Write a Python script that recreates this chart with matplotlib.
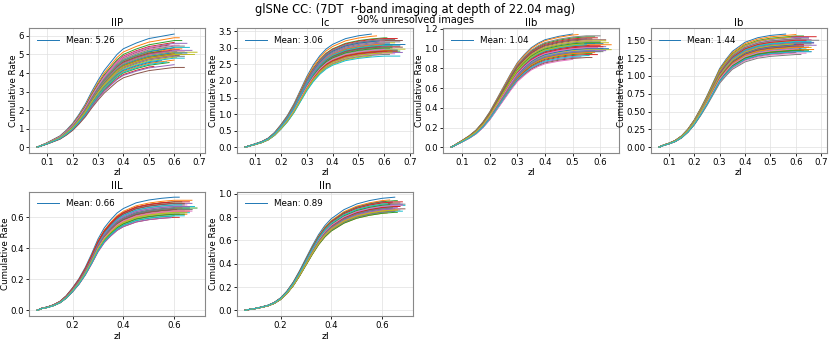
"""Cumulative rate of lensed CC supernovae per subtype.
"""
import numpy as np
import matplotlib
matplotlib.use("Agg")
import matplotlib.pyplot as plt

# common redshift knots for the read-off curve shapes
z_knots = [0.06, 0.08, 0.10, 0.125, 0.15, 0.175, 0.20, 0.225, 0.25, 0.275, 0.30,
           0.325, 0.35, 0.375, 0.40, 0.45, 0.50, 0.55, 0.60, 0.65, 0.70]

types = ["IIP", "Ic", "IIb", "Ib", "IIL", "IIn"]
means = [5.26, 3.06, 1.04, 1.44, 0.66, 0.89]

# normalised shape of the cumulative curves (fraction of final value)
shape_IIP = [0, 0.02, 0.04, 0.07, 0.10, 0.15, 0.21, 0.29, 0.38, 0.49, 0.59,
             0.68, 0.75, 0.82, 0.87, 0.92, 0.96, 0.98, 1.0, 1.0, 1.0]
shape_Ic = [0, 0.015, 0.03, 0.05, 0.08, 0.13, 0.20, 0.28, 0.38, 0.50, 0.62,
            0.72, 0.80, 0.86, 0.90, 0.95, 0.975, 0.99, 1.0, 1.0, 1.0]
shape_IIb = [0, 0.03, 0.06, 0.10, 0.15, 0.22, 0.31, 0.42, 0.53, 0.64, 0.74,
             0.81, 0.87, 0.91, 0.94, 0.97, 0.99, 1.0, 1.0, 1.0, 1.0]
shape_Ib = [0, 0.02, 0.035, 0.06, 0.10, 0.16, 0.24, 0.34, 0.45, 0.57, 0.69,
            0.77, 0.84, 0.88, 0.92, 0.96, 0.98, 0.99, 1.0, 1.0, 1.0]
shape_IIL = [0, 0.02, 0.03, 0.05, 0.08, 0.13, 0.20, 0.28, 0.38, 0.50, 0.63,
             0.73, 0.80, 0.86, 0.90, 0.95, 0.975, 0.99, 1.0, 1.0, 1.0]
shape_IIn = [0, 0.01, 0.017, 0.03, 0.045, 0.07, 0.11, 0.17, 0.25, 0.35, 0.46,
             0.57, 0.67, 0.75, 0.81, 0.89, 0.94, 0.97, 0.99, 1.0, 1.0]
shapes = [shape_IIP, shape_Ic, shape_IIb, shape_Ib, shape_IIL, shape_IIn]

# final heights and last redshift of each realisation
final_IIP = [6.10, 5.90, 5.75, 5.65, 5.60, 5.55, 5.50, 5.45, 5.40, 5.38, 5.35,
             5.30, 5.28, 5.25, 5.22, 5.20, 5.18, 5.15, 5.12, 5.10, 5.08, 5.05,
             5.02, 5.00, 4.98, 4.95, 4.92, 4.90, 4.85, 4.80, 4.75, 4.70, 4.60,
             4.50, 4.45, 4.30, 5.60, 5.35, 5.00, 4.65]
end_IIP = [0.60, 0.62, 0.63, 0.60, 0.65, 0.58, 0.62, 0.64, 0.57, 0.66, 0.60,
           0.63, 0.55, 0.62, 0.67, 0.59, 0.64, 0.61, 0.69, 0.58, 0.65, 0.60,
           0.63, 0.66, 0.56, 0.62, 0.60, 0.64, 0.61, 0.64, 0.55, 0.60, 0.58,
           0.52, 0.60, 0.64, 0.54, 0.50, 0.68, 0.57]

final_Ic = [3.45, 3.38, 3.30, 3.28, 3.25, 3.22, 3.20, 3.18, 3.15, 3.12, 3.10,
            3.08, 3.06, 3.05, 3.03, 3.02, 3.00, 2.98, 2.96, 2.95, 2.93, 2.92,
            2.90, 2.88, 2.86, 2.85, 2.82, 2.80, 2.78, 2.75, 3.22, 3.12, 3.00,
            2.90, 3.15, 3.05, 2.95, 3.25, 2.85, 3.08]
end_Ic = [0.55, 0.57, 0.61, 0.65, 0.63, 0.67, 0.60, 0.66, 0.64, 0.62, 0.68,
          0.59, 0.63, 0.66, 0.61, 0.67, 0.64, 0.62, 0.68, 0.60, 0.65, 0.63,
          0.66, 0.61, 0.67, 0.59, 0.64, 0.62, 0.55, 0.66, 0.58, 0.60, 0.63,
          0.65, 0.62, 0.57, 0.60, 0.64, 0.63, 0.66]

final_IIb = [1.16, 1.15, 1.12, 1.11, 1.10, 1.09, 1.08, 1.07, 1.06, 1.05, 1.05,
             1.04, 1.03, 1.03, 1.02, 1.01, 1.00, 1.00, 0.99, 0.98, 0.97, 0.96,
             0.95, 0.94, 0.92, 0.91, 0.90, 1.13, 1.08, 1.04, 1.00, 0.96, 1.06,
             1.02, 0.98, 1.10, 1.01, 0.97, 1.05, 0.93]
end_IIb = [0.50, 0.52, 0.58, 0.59, 0.55, 0.62, 0.57, 0.60, 0.63, 0.58, 0.61,
           0.64, 0.56, 0.60, 0.62, 0.59, 0.57, 0.61, 0.64, 0.58, 0.60, 0.56,
           0.57, 0.59, 0.53, 0.57, 0.50, 0.60, 0.62, 0.55, 0.63, 0.58, 0.60,
           0.61, 0.62, 0.57, 0.59, 0.61, 0.54, 0.56]

final_Ib = [1.60, 1.58, 1.56, 1.55, 1.54, 1.52, 1.51, 1.50, 1.49, 1.48, 1.47,
            1.46, 1.45, 1.44, 1.43, 1.42, 1.42, 1.41, 1.40, 1.39, 1.38, 1.37,
            1.36, 1.35, 1.34, 1.33, 1.32, 1.30, 1.55, 1.48, 1.44, 1.40, 1.36,
            1.50, 1.46, 1.42, 1.38, 1.52, 1.45, 1.34]
end_Ib = [0.56, 0.60, 0.63, 0.68, 0.65, 0.62, 0.66, 0.69, 0.60, 0.64, 0.67,
          0.62, 0.66, 0.63, 0.68, 0.61, 0.65, 0.63, 0.66, 0.64, 0.62, 0.67,
          0.65, 0.63, 0.66, 0.60, 0.64, 0.62, 0.58, 0.66, 0.60, 0.65, 0.62,
          0.64, 0.67, 0.63, 0.61, 0.65, 0.59, 0.66]

final_IIL = [0.73, 0.71, 0.70, 0.70, 0.69, 0.69, 0.68, 0.68, 0.67, 0.67, 0.66,
             0.66, 0.66, 0.65, 0.65, 0.65, 0.64, 0.64, 0.63, 0.63, 0.62, 0.62,
             0.61, 0.60, 0.60, 0.69, 0.67, 0.65, 0.63, 0.68, 0.66, 0.64, 0.62,
             0.70, 0.67, 0.65, 0.64, 0.66, 0.63, 0.61]
end_IIL = [0.62, 0.67, 0.63, 0.66, 0.67, 0.60, 0.65, 0.64, 0.62, 0.68, 0.66,
           0.63, 0.69, 0.65, 0.61, 0.67, 0.66, 0.64, 0.62, 0.66, 0.62, 0.65,
           0.60, 0.62, 0.59, 0.64, 0.62, 0.67, 0.65, 0.63, 0.60, 0.66, 0.64,
           0.58, 0.66, 0.61, 0.67, 0.63, 0.60, 0.64]

final_IIn = [0.97, 0.95, 0.94, 0.93, 0.93, 0.92, 0.92, 0.91, 0.91, 0.90, 0.90,
             0.89, 0.89, 0.88, 0.88, 0.87, 0.87, 0.86, 0.86, 0.85, 0.85, 0.84,
             0.84, 0.93, 0.91, 0.89, 0.87, 0.85, 0.92, 0.90, 0.88, 0.86, 0.91,
             0.89, 0.87, 0.94, 0.90, 0.88, 0.86, 0.92]
end_IIn = [0.65, 0.63, 0.66, 0.68, 0.64, 0.67, 0.62, 0.69, 0.66, 0.63, 0.68,
           0.65, 0.67, 0.62, 0.66, 0.69, 0.64, 0.67, 0.63, 0.68, 0.65, 0.62,
           0.66, 0.64, 0.68, 0.63, 0.67, 0.65, 0.62, 0.69, 0.64, 0.66, 0.63,
           0.67, 0.65, 0.61, 0.68, 0.64, 0.66, 0.62]

finals = [final_IIP, final_Ic, final_IIb, final_Ib, final_IIL, final_IIn]
ends = [end_IIP, end_Ic, end_IIb, end_Ib, end_IIL, end_IIn]

yticks = [np.arange(0, 6.1, 1), np.arange(0, 3.51, 0.5), np.arange(0, 1.21, 0.2),
          np.arange(0, 1.51, 0.25), np.arange(0, 0.61, 0.2), np.arange(0, 1.01, 0.2)]
ytick_fmt = ["%d", "%.1f", "%.1f", "%.2f", "%.1f", "%.1f"]

fig = plt.figure(figsize=(8.3, 3.42), dpi=100)
fig.text(0.5, 1 - 9 / 342, "glSNe CC: (7DT  r-band imaging at depth of 22.04 mag)",
         ha="center", va="center", fontsize=8.3)
fig.text(0.5, 1 - 20 / 342, "90% unresolved images", ha="center", va="center",
         fontsize=7.0)

#positions of the six panels (left, bottom)
lefts = [0.035, 0.2855, 0.534, 0.784, 0.035, 0.2855]
bottoms = [0.553, 0.553, 0.553, 0.553, 0.076, 0.076]
colors = plt.rcParams['axes.prop_cycle'].by_key()['color']

for i, name in enumerate(types):
    ax = fig.add_axes([lefts[i], bottoms[i], 0.212, 0.364])
    z = np.array(z_knots)
    s = np.array(shapes[i])
    for j, (fin, zend) in enumerate(zip(finals[i], ends[i])):
        mask = z < zend
        zz = np.append(z[mask], zend)
        yy = np.append(s[mask], np.interp(zend, z, s)) * fin
        label = "Mean: %.2f" % means[i] if j == 0 else None
        ax.plot(zz, yy, lw=0.7, color=colors[j % len(colors)], label=label)
    ax.set_title(name, fontsize=7.3, pad=2)
    ax.set_xlabel("zl", fontsize=6.8, labelpad=1)
    ax.set_ylabel("Cumulative Rate", fontsize=6.3, labelpad=0.5)
    ax.set_yticks(yticks[i])
    ax.yaxis.set_major_formatter(matplotlib.ticker.FormatStrFormatter(ytick_fmt[i]))
    if i < 4:
        ax.set_xticks([0.1, 0.2, 0.3, 0.4, 0.5, 0.6, 0.7] if i != 2
                      else [0.1, 0.2, 0.3, 0.4, 0.5, 0.6])
    else:
        ax.set_xticks([0.2, 0.4, 0.6])
    ax.tick_params(labelsize=6.2, length=2.5, width=0.6, pad=1.2)
    ax.grid(True, color="#e0e0e0", lw=0.5)
    for sp in ax.spines.values():
        sp.set_color("#888888")
        sp.set_linewidth(0.8)
    ax.legend(loc="upper left", frameon=False, fontsize=6.3, handlelength=2.5)

fig.savefig("out.png", dpi=100)
